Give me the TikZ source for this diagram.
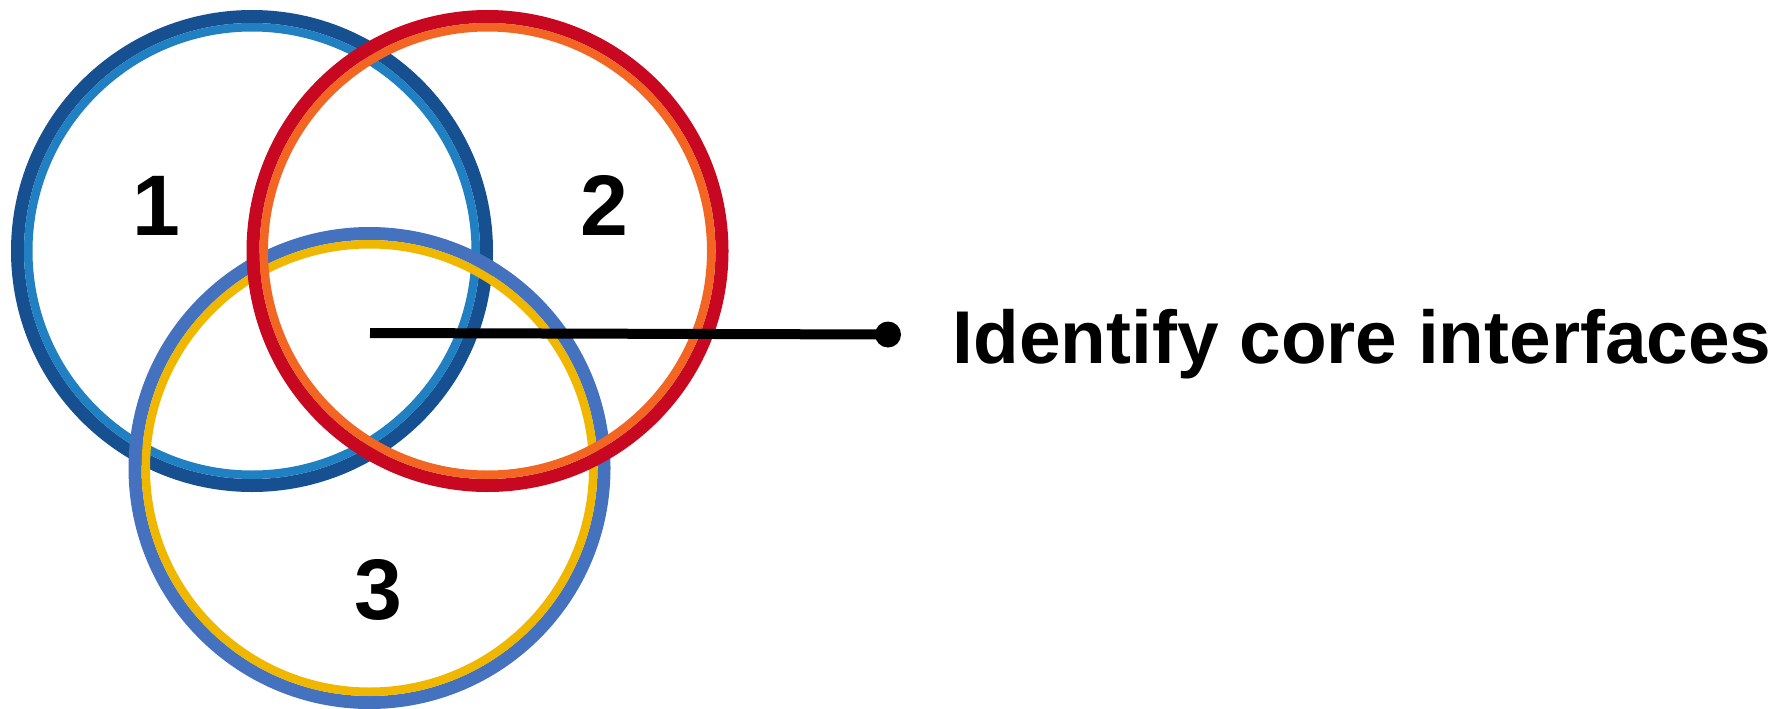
\documentclass[tikz,border=0pt]{standalone}
\usepackage{fontspec}
\setmainfont{Liberation Sans}
\usepackage{tikz}
\usetikzlibrary{positioning}
\usepackage{xcolor}

\definecolor{oneDark}{RGB}{23,80,145}
\definecolor{oneLight}{RGB}{33,128,193}
\definecolor{twoDark}{RGB}{200,8,32}
\definecolor{twoLight}{RGB}{242,101,34}
\definecolor{threeDark}{RGB}{68,114,190}
\definecolor{threeLight}{RGB}{240,183,0}

\begin{document}
\begin{tikzpicture}[x=1pt, y=-1pt,
    ringout/.style={line width=13pt},
    ringin/.style={line width=8.5pt},
    numlabel/.style={anchor=base, inner sep=0pt, font=\fontsize{86}{100}\selectfont\bfseries},
    calltext/.style={anchor=base west, inner sep=0pt, font=\fontsize{74.8}{90}\selectfont\bfseries}]
    \useasboundingbox (0,0) rectangle (1790,709);

    \coordinate (C1) at (252, 251);
    \coordinate (C2) at (487.5, 251);
    \coordinate (C3) at (369.5, 468);
    \coordinate (LS) at (370, 333);

    % circle 1
    \draw [oneDark, ringout] (C1) circle [radius=234.5pt];
    \draw [oneLight, ringin] (C1) circle [radius=223.75pt];

    % circle 3
    \draw [threeDark, ringout] (C3) circle [radius=234.5pt];
    \draw [threeLight, ringin] (C3) circle [radius=223.75pt];

    % circle 2
    \draw [twoDark, ringout] (C2) circle [radius=234.5pt];
    \draw [twoLight, ringin] (C2) circle [radius=223.75pt];

    \node [numlabel] (N1) at (156, 235) {1};
    \node [numlabel] (N2) at (604.5, 235) {2};
    \node [numlabel] (N3) at (378, 619) {3};

    \node [fill=black, circle, inner sep=0pt, minimum size=26pt] (dot) at (888, 334.5) {};
    \draw [black, line width=10pt] (LS) to (dot.center);

    \node [calltext] (task) at (952.5, 363) {Identify core interfaces};
\end{tikzpicture}
\end{document}
